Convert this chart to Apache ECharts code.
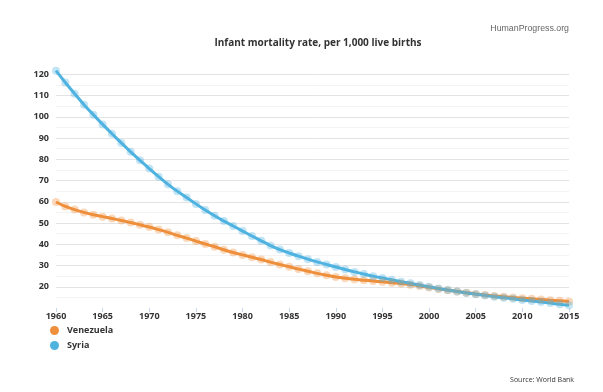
<!DOCTYPE html>
<html>
<head>
<meta charset="utf-8">
<script src="https://cdn.jsdelivr.net/npm/echarts@6/dist/echarts.min.js"></script>
<style>
html,body{margin:0;padding:0;background:#fff;}
#chart{width:603px;height:392px;}
</style>
</head>
<body>
<div id="chart"></div>
<script>
var years = [];
for (var y = 1960; y <= 2015; y++) years.push(String(y));

var venezuela = [
  59.9, 57.8, 56.3, 55.0, 53.9, 53.0, 52.1, 51.2, 50.2, 49.2,
  48.1, 46.9, 45.6, 44.2, 42.9, 41.5, 40.1, 38.8, 37.4, 36.1,
  35.0, 33.9, 32.8, 31.6, 30.5, 29.4, 28.3, 27.3, 26.3, 25.4,
  24.6, 24.0, 23.5, 23.1, 22.7, 22.3, 21.9, 21.5, 21.0, 20.4,
  19.7, 19.0, 18.4, 17.8, 17.2, 16.6, 16.1, 15.7, 15.3, 14.9,
  14.6, 14.3, 14.0, 13.7, 13.4, 13.1
];

var syria = [
  121.7, 116.1, 110.8, 105.7, 101.0, 96.4, 92.0, 87.7, 83.5, 79.5,
  75.6, 71.8, 68.2, 65.0, 62.0, 59.0, 56.1, 53.4, 50.9, 48.6,
  46.2, 43.9, 41.6, 39.4, 37.5, 35.9, 34.4, 33.0, 31.7, 30.5,
  29.3, 28.1, 27.0, 26.0, 25.0, 24.1, 23.3, 22.4, 21.6, 20.8,
  20.0, 19.2, 18.5, 17.8, 17.1, 16.5, 15.9, 15.3, 14.8, 14.3,
  13.8, 13.3, 12.8, 12.3, 11.8, 11.3
];

var seriesNames = ['Venezuela', 'Syria'];
var colors = ['#ef8f3c', '#4fb3e0'];
var titleText = 'Infant mortality rate, per 1,000 live births';
var sourceText = 'Source: World Bank';
var brandText = 'HumanProgress.org';

var chart = echarts.init(document.getElementById('chart'), null, {renderer: 'canvas'});

function mkSeries(name, data, color) {
  return {
    name: name,
    type: 'line',
    data: data,
    smooth: 0.3,
    symbol: 'circle',
    symbolSize: 8,
    showSymbol: true,
    showAllSymbol: true,
    lineStyle: {color: color, width: 3},
    itemStyle: {color: color, opacity: 0.35},
    emphasis: {disabled: true},
    animation: false
  };
}

chart.setOption({
  animation: false,
  backgroundColor: '#fff',
  color: colors,
  textStyle: {fontFamily: 'Open Sans'},
  title: [{
    text: titleText,
    left: 313,
    top: 33,
    textAlign: 'center',
    textStyle: {fontFamily: 'Open Sans', fontWeight: 'bold', fontSize: 10, color: '#333'}
  }, {
    text: brandText,
    right: 29,
    top: 19,
    textStyle: {fontFamily: 'Liberation Sans', fontWeight: 'normal', fontSize: 8.8, color: '#666'}
  }, {
    text: sourceText,
    right: 24,
    top: 371,
    textStyle: {fontFamily: 'Open Sans', fontWeight: 'normal', fontSize: 7, color: '#333'}
  }],
  legend: {
    orient: 'vertical',
    left: 45,
    top: 321,
    itemWidth: 15,
    itemHeight: 9,
    itemGap: 6,
    icon: 'circle',
    itemStyle: {opacity: 1},
    data: seriesNames,
    textStyle: {fontFamily: 'Open Sans', fontWeight: 'bold', fontSize: 9, color: '#333'}
  },
  grid: {left: 56, right: 34, top: 70, bottom: 84},
  xAxis: {
    type: 'category',
    data: years,
    boundaryGap: false,
    axisLine: {show: false},
    axisTick: {show: true, interval: 4, length: 4, lineStyle: {color: '#ccd6eb'}},
    axisLabel: {interval: 4, margin: 4, fontFamily: 'Open Sans', fontWeight: 'bold', fontSize: 9, color: '#333'},
    splitLine: {show: false}
  },
  yAxis: {
    type: 'value',
    min: 10,
    max: 122,
    interval: 5,
    axisLine: {show: false},
    axisTick: {show: false},
    axisLabel: {
      margin: 7,
      showMinLabel: false,
      showMaxLabel: false,
      fontFamily: 'Open Sans', fontWeight: 'bold', fontSize: 9, color: '#333',
      formatter: function (v) { return (v % 10 === 0) ? String(v) : ''; }
    },
    splitLine: {
      show: true,
      showMinLine: false,
      showMaxLine: false,
      lineStyle: {color: ['#f3f3f3', '#e3e3e3'], width: 1}
    }
  },
  series: [
    mkSeries(seriesNames[0], venezuela, colors[0]),
    mkSeries(seriesNames[1], syria, colors[1])
  ]
});
</script>
</body>
</html>
